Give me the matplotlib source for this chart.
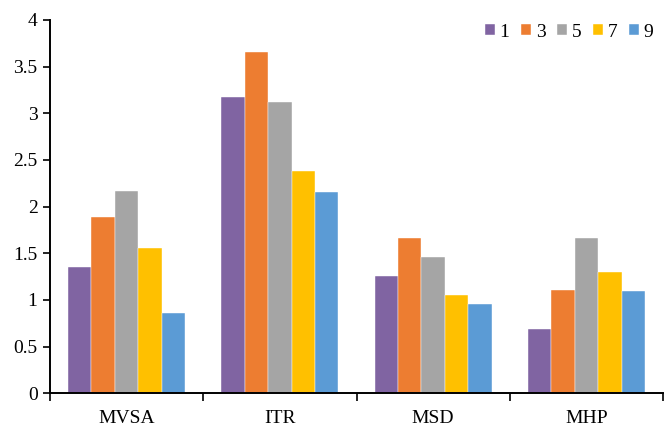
import numpy as np
import matplotlib
matplotlib.use("Agg")
import matplotlib.pyplot as plt

# Grouped bar chart: four metrics, five settings each

categories = ["MVSA", "ITR", "MSD", "MHP"]
series_names = ["1", "3", "5", "7", "9"]
vals_1 = [1.35, 3.17, 1.26, 0.69]
vals_3 = [1.89, 3.66, 1.66, 1.11]
vals_5 = [2.17, 3.12, 1.46, 1.66]
vals_7 = [1.56, 2.38, 1.05, 1.30]
vals_9 = [0.86, 2.16, 0.96, 1.10]

colors = ["#8064A2", "#ED7D31", "#A5A5A5", "#FFC000", "#5B9BD5"]

plt.rcParams['font.family'] = ['Liberation Serif', 'DejaVu Serif']

fig = plt.figure(figsize=(6.64, 4.29), dpi=100)
ax = fig.add_axes([50 / 664, 1 - 393.3 / 429, 613 / 664, 373.3 / 429])

x = np.arange(len(categories))
bar_w = 0.153
all_vals = [vals_1, vals_3, vals_5, vals_7, vals_9]
for i, (name, vals) in enumerate(zip(series_names, all_vals)):
    offs = (i - 2) * bar_w
    ax.bar(x + offs, vals, width=bar_w, color=colors[i], label=name,
           edgecolor="white", linewidth=0.3, zorder=2)

ax.set_xlim(-0.5, 3.5)
ax.set_ylim(0, 4)
ax.set_yticks(np.arange(0, 4.01, 0.5))
ax.set_yticklabels(["0", "0.5", "1", "1.5", "2", "2.5", "3", "3.5", "4"])

# category labels centred, ticks on the boundaries
ax.set_xticks(x)
ax.set_xticklabels(categories)
ax.tick_params(axis="x", which="major", length=0, labelsize=14, pad=12)
ax.set_xticks(np.arange(-0.5, 3.6, 1), minor=True)
ax.tick_params(axis="x", which="minor", length=6, width=1.2, direction="out")
ax.tick_params(axis="y", length=5, width=1.2, direction="out", labelsize=14, pad=4)

for side in ["top", "right"]:
    ax.spines[side].set_visible(False)
for side in ["left", "bottom"]:
    ax.spines[side].set_linewidth(1.4)

ax.legend(loc="upper right", ncol=5, frameon=False, fontsize=14,
          handlelength=0.5, handleheight=0.5, handletextpad=0.25,
          columnspacing=0.6, bbox_to_anchor=(1.0, 1.016), borderaxespad=0.1)

fig.savefig("out.png", dpi=100)
